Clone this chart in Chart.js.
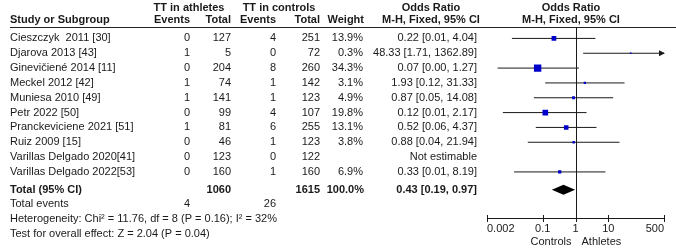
<!DOCTYPE html>
<html>
<head>
<meta charset="utf-8">
<script src="https://cdn.jsdelivr.net/npm/chart.js@4.4.0/dist/chart.umd.min.js"></script>
<style>
  html, body { margin: 0; padding: 0; background: #fff; }
</style>
</head>
<body>
<canvas id="forest" width="676" height="249"></canvas>
<script>
// study rows
const studies = ['Cieszczyk  2011 [30]', 'Djarova 2013 [43]', 'Ginevičiené 2014 [11]', 'Meckel 2012 [42]',
  'Muniesa 2010 [49]', 'Petr 2022 [50]', 'Pranckeviciene 2021 [51]', 'Ruiz 2009 [15]',
  'Varillas Delgado 2020[41]', 'Varillas Delgado 2022[53]'];
const athEvents = [0, 1, 0, 1, 1, 0, 1, 0, 0, 0];
const athTotal = [127, 5, 204, 74, 141, 99, 81, 46, 123, 160];
const ctlEvents = [4, 0, 8, 1, 1, 4, 6, 1, 0, 1];
const ctlTotal = [251, 72, 260, 142, 123, 107, 255, 123, 122, 160];
const weights = [13.9, 0.3, 34.3, 3.1, 4.9, 19.8, 13.1, 3.8, null, 6.9];
const oddsRatio = [0.22, 48.33, 0.07, 1.93, 0.87, 0.12, 0.52, 0.88, null, 0.33];
const ciLow = [0.0115, 1.71, 0.0042, 0.119, 0.054, 0.0061, 0.0615, 0.0351, null, 0.0134];
const ciHigh = [4.04, 1362.89, 1.27, 31.33, 14.08, 2.17, 4.37, 21.94, null, 8.19];

// pooled result
const pooled = { or: 0.43, low: 0.19, high: 0.97 };
const totalAth = 1060, totalCtl = 1615, totalWeight = 100.0;
const eventsAth = 4, eventsCtl = 26;
const hetText = 'Heterogeneity: Chi² = 11.76, df = 8 (P = 0.16); I² = 32%';
const testText = 'Test for overall effect: Z = 2.04 (P = 0.04)';

// axis
const axisTicks = [0.002, 0.1, 1, 10, 500];
const axisLabels = ['0.002', '0.1', '1', '10', '500'];

const FONT = '"Liberation Sans", Arial, sans-serif';
const rowTop = 34, rowStep = 15.2, axisY = 218;
const totalRow = 10.2;

const fmt = v => v.toFixed(2);

const lineSets = [];
studies.forEach((s, i) => {
  if (oddsRatio[i] == null) return;
  lineSets.push({
    type: 'scatter', showLine: true, order: 2,
    data: [{x: ciLow[i], y: i}, {x: ciHigh[i], y: i}],
    borderColor: '#1a1a1a', borderWidth: 1, pointRadius: 0
  });
});

const squareSet = {
  type: 'scatter', order: 1,
  data: studies.map((s, i) => ({x: oddsRatio[i], y: i})).filter(p => p.x != null),
  pointStyle: 'rect',
  pointRadius: weights.filter(w => w != null).map(w => Math.max(1.6, 7.4 * Math.sqrt(w / 34.3)) / Math.SQRT2),
  backgroundColor: '#0000cc', borderWidth: 0
};

const tablePlugin = {
  id: 'table',
  afterDatasetsDraw(chart) {
    const c = chart.ctx, xs = chart.scales.x, ys = chart.scales.y;
    const put = (t, x, y, align, bold) => {
      c.font = (bold ? 'bold ' : '') + '11px ' + FONT;
      c.textAlign = align;
      c.fillText(t, x, y);
    };
    c.save();
    c.fillStyle = '#1a1a1a';
    c.textBaseline = 'middle';

    // header
    put('TT in athletes', 189, 8, 'center', true);
    put('TT in controls', 279, 8, 'center', true);
    put('Odds Ratio', 431, 8, 'center', true);
    put('Odds Ratio', 571, 8, 'center', true);
    put('Study or Subgroup', 10, 20, 'left', true);
    put('Events', 190, 20, 'right', true);
    put('Total', 231, 20, 'right', true);
    put('Events', 276, 20, 'right', true);
    put('Total', 320, 20, 'right', true);
    put('Weight', 364, 20, 'right', true);
    put('M-H, Fixed, 95% CI', 431, 20, 'center', true);
    put('M-H, Fixed, 95% CI', 571, 20, 'center', true);

    c.strokeStyle = '#222';
    c.lineWidth = 1;
    c.beginPath();
    c.moveTo(10, 27.5); c.lineTo(676, 27.5);
    c.stroke();

    // rows
    studies.forEach((s, i) => {
      const y = ys.getPixelForValue(i);
      put(s, 10, y, 'left');
      put(String(athEvents[i]), 190, y, 'right');
      put(String(athTotal[i]), 231, y, 'right');
      put(String(ctlEvents[i]), 276, y, 'right');
      put(String(ctlTotal[i]), 320, y, 'right');
      if (weights[i] != null) {
        put(weights[i].toFixed(1) + '%', 363, y, 'right');
        put(fmt(oddsRatio[i]) + ' [' + fmt(ciLow[i]) + ', ' + fmt(ciHigh[i]) + ']', 477, y, 'right');
      } else {
        put('Not estimable', 477, y, 'right');
      }
      // arrow for a CI beyond the axis
      if (ciHigh[i] != null && ciHigh[i] > xs.max) {
        const xe = xs.getPixelForValue(xs.max) + 1;
        c.beginPath();
        c.moveTo(xe, y); c.lineTo(xe - 6, y - 3); c.lineTo(xe - 6, y + 3); c.closePath();
        c.fill();
      }
    });

    // totals
    const yT = ys.getPixelForValue(totalRow);
    put('Total (95% CI)', 10, yT, 'left', true);
    put(String(totalAth), 231, yT, 'right', true);
    put(String(totalCtl), 320, yT, 'right', true);
    put(totalWeight.toFixed(1) + '%', 364, yT, 'right', true);
    put(fmt(pooled.or) + ' [' + fmt(pooled.low) + ', ' + fmt(pooled.high) + ']', 477, yT, 'right', true);
    put('Total events', 10, 204, 'left');
    put(String(eventsAth), 190, 204, 'right');
    put(String(eventsCtl), 276, 204, 'right');
    put(hetText, 10, 219, 'left');
    put(testText, 10, 234, 'left');

    // pooled diamond
    c.fillStyle = '#000';
    c.beginPath();
    c.moveTo(xs.getPixelForValue(pooled.low), yT);
    c.lineTo(xs.getPixelForValue(pooled.or), yT - 5);
    c.lineTo(xs.getPixelForValue(pooled.high), yT);
    c.lineTo(xs.getPixelForValue(pooled.or), yT + 5);
    c.closePath();
    c.fill();

    // line of no effect and axis
    const x1 = Math.round(xs.getPixelForValue(1)) + 0.5;
    c.strokeStyle = '#1a1a1a';
    c.beginPath();
    c.moveTo(x1, 27.5); c.lineTo(x1, axisY);
    c.moveTo(xs.left, axisY + 0.5); c.lineTo(xs.right, axisY + 0.5);
    axisTicks.forEach(t => {
      const x = Math.round(xs.getPixelForValue(t)) + 0.5;
      c.moveTo(x, axisY - 3); c.lineTo(x, axisY + 4);
    });
    c.stroke();
    c.fillStyle = '#1a1a1a';
    axisTicks.forEach((t, k) => {
      const x = xs.getPixelForValue(t);
      const al = k === 0 ? 'left' : (k === axisTicks.length - 1 ? 'right' : 'center');
      put(axisLabels[k], x, 229, al);
    });
    put('Controls', x1 - 5, 242, 'right');
    put('Athletes', x1 + 5, 242, 'left');
    c.restore();
  }
};

new Chart(document.getElementById('forest'), {
  data: { datasets: [...lineSets, squareSet] },
  options: {
    responsive: false,
    animation: false,
    layout: { padding: { left: 487, right: 12, top: 0, bottom: 249 - axisY } },
    scales: {
      x: { type: 'logarithmic', min: 0.002, max: 500, display: false },
      y: { type: 'linear', reverse: true, display: false,
           min: -rowTop / rowStep, max: (axisY - rowTop) / rowStep }
    },
    plugins: { legend: { display: false }, tooltip: { enabled: false } }
  },
  plugins: [tablePlugin]
});
</script>
</body>
</html>
